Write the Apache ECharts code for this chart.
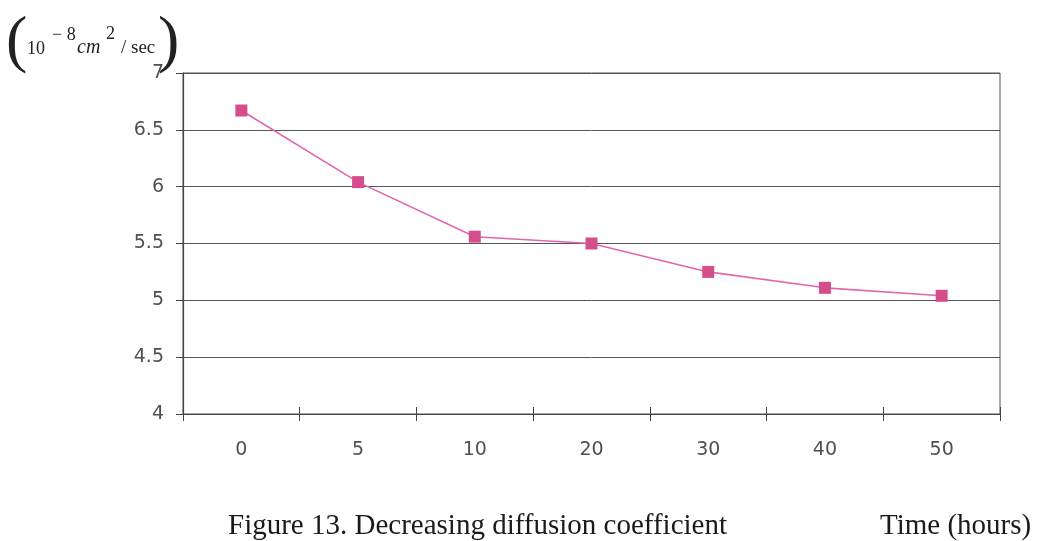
<!DOCTYPE html>
<html>
<head>
<meta charset="utf-8">
<script src="https://cdn.jsdelivr.net/npm/echarts@6/dist/echarts.min.js"></script>
<style>
  html, body { margin: 0; padding: 0; background: #fff; }
  #chart { width: 1042px; height: 541px; }
</style>
</head>
<body>
<div id="chart"></div>
<script>
// Diffusion coefficient (10^-8 cm^2/sec) over time (hours)
const hours = ['0', '5', '10', '20', '30', '40', '50'];
const diffusion = [6.67, 6.04, 5.56, 5.50, 5.25, 5.11, 5.04];
const yTicks = { min: 4, max: 7, step: 0.5 };

const serif = '"Liberation Serif", "DejaVu Serif", serif';
const axisFont = '"DejaVu Sans", Verdana, sans-serif';
const ink = '#505050';

const chart = echarts.init(document.getElementById('chart'), null, { renderer: 'canvas' });

chart.setOption({
  animation: false,
  backgroundColor: '#fff',
  grid: { left: 183, right: 42, top: 73, bottom: 127, show: true, borderColor: '#555', borderWidth: 1 },
  xAxis: [
    {
      type: 'category',
      data: hours,
      boundaryGap: true,
      axisLine: { lineStyle: { color: '#444', width: 1.2 } },
      axisTick: { show: true, length: 7, lineStyle: { color: '#444' } },
      axisLabel: { color: ink, fontFamily: axisFont, fontSize: 19, margin: 27 }
    },
    {
      // second tick row so the ticks cross the axis line
      type: 'category',
      data: hours,
      position: 'bottom',
      boundaryGap: true,
      axisLine: { show: false },
      axisTick: { show: true, inside: true, length: 7, lineStyle: { color: '#444' } },
      axisLabel: { show: false }
    }
  ],
  yAxis: {
    type: 'value',
    min: yTicks.min,
    max: yTicks.max,
    interval: yTicks.step,
    axisLine: { show: true, lineStyle: { color: '#444', width: 1.2 } },
    axisTick: { show: true, length: 7, lineStyle: { color: '#444' } },
    axisLabel: {
      color: ink, fontFamily: axisFont, fontSize: 19, margin: 19,
      formatter: v => (Math.round(v * 10) / 10).toString()
    },
    splitLine: { show: true, lineStyle: { color: '#555', width: 1 } }
  },
  series: [{
    type: 'line',
    data: diffusion,
    symbol: 'rect',
    symbolSize: 12,
    lineStyle: { color: '#e366a8', width: 1.6 },
    itemStyle: { color: '#d64d8c' },
    z: 5
  }],
  graphic: [
    // unit label: ( 10^-8 cm^2 / sec )
    { type: 'text', left: 6, top: 11, style: { text: '(', font: '64px ' + serif, fill: '#222' } },
    { type: 'text', left: 27, top: 40, style: { text: '10', font: '18px ' + serif, fill: '#222' } },
    { type: 'text', left: 52, top: 26, style: { text: '− 8', font: '18px ' + serif, fill: '#222' } },
    { type: 'text', left: 77, top: 38, style: { text: 'cm', font: 'italic 20px ' + serif, fill: '#222' } },
    { type: 'text', left: 106, top: 25, style: { text: '2', font: '18px ' + serif, fill: '#222' } },
    { type: 'text', left: 121, top: 39, style: { text: '/ sec', font: '19px ' + serif, fill: '#222' } },
    { type: 'text', left: 158, top: 11, style: { text: ')', font: '64px ' + serif, fill: '#222' } },
    // captions
    { type: 'text', left: 228, top: 512, style: { text: 'Figure 13. Decreasing diffusion coefficient', font: '29px ' + serif, fill: '#1a1a1a' } },
    { type: 'text', left: 880, top: 512, style: { text: 'Time (hours)', font: '29px ' + serif, fill: '#1a1a1a' } }
  ]
});
</script>
</body>
</html>
